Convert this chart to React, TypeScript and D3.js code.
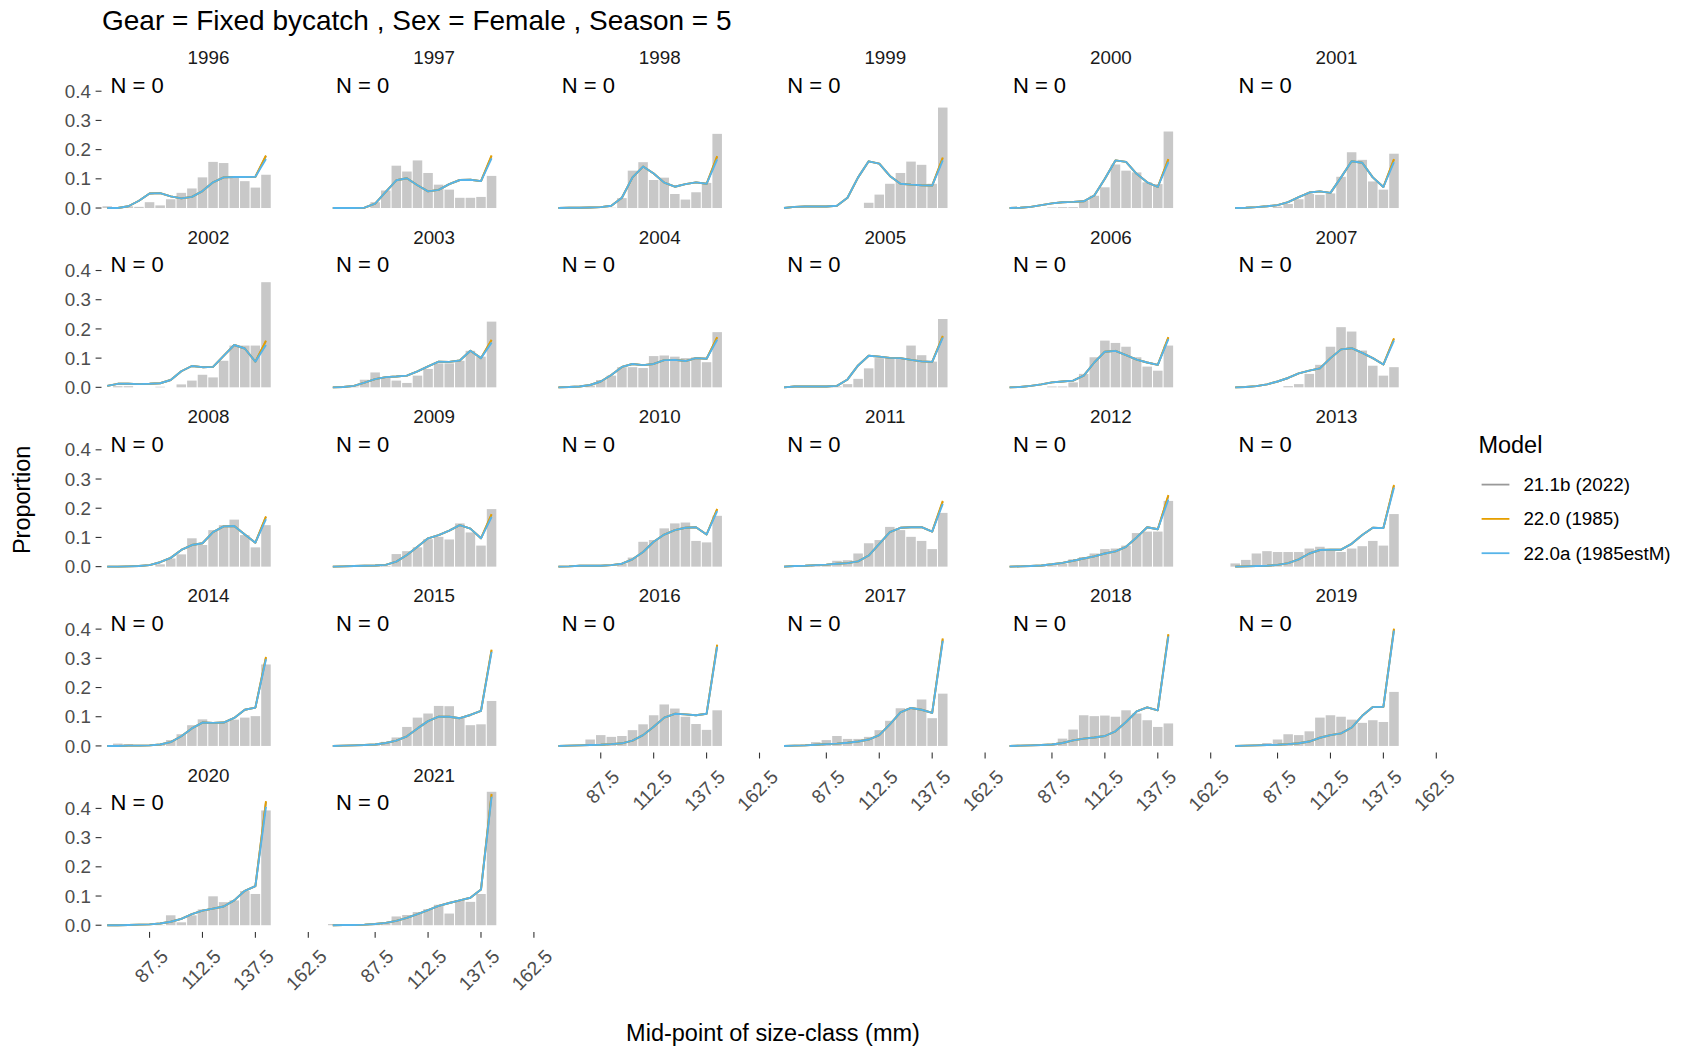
import React from "react";
import * as d3 from "d3";

// ---------------- data ----------------
const years = [1996, 1997, 1998, 1999, 2000, 2001, 2002, 2003, 2004, 2005, 2006, 2007, 2008, 2009, 2010, 2011, 2012, 2013, 2014, 2015, 2016, 2017, 2018, 2019, 2020, 2021];
const sizeMids = [67.5, 72.5, 77.5, 82.5, 87.5, 92.5, 97.5, 102.5, 107.5, 112.5, 117.5, 122.5, 127.5, 132.5, 137.5, 142.5];
const xTicks = [87.5, 112.5, 137.5, 162.5];
const yTicks = [0, 0.1, 0.2, 0.3, 0.4];
const modelNames = ["21.1b (2022)", "22.0 (1985)", "22.0a (1985estM)"];
const modelColors = ["#999999", "#E69F00", "#56B4E9"];

const observed: number[][] = [
  [0.006, 0.002, 0.006, 0.004, 0.02, 0.009, 0.03, 0.052, 0.067, 0.105, 0.158, 0.154, 0.105, 0.092, 0.07, 0.114],
  [0, 0, 0, 0.001, 0.02, 0.06, 0.145, 0.125, 0.163, 0.12, 0.08, 0.063, 0.035, 0.035, 0.038, 0.11],
  [0, 0, 0, 0, 0, 0.001, 0.034, 0.128, 0.157, 0.096, 0.104, 0.048, 0.029, 0.054, 0.086, 0.254],
  [0, 0, 0, 0, 0, 0, 0, 0, 0.018, 0.046, 0.083, 0.12, 0.159, 0.148, 0.083, 0.344],
  [0, 0, 0, 0, 0.002, 0.003, 0.003, 0.025, 0.042, 0.071, 0.149, 0.128, 0.122, 0.088, 0.082, 0.262],
  [0, 0, 0, 0, 0.005, 0.014, 0.03, 0.048, 0.045, 0.05, 0.107, 0.191, 0.165, 0.091, 0.063, 0.186],
  [0, 0.004, 0.004, 0, 0, 0.002, 0, 0.01, 0.023, 0.043, 0.034, 0.091, 0.143, 0.143, 0.143, 0.36],
  [0, 0, 0.003, 0.026, 0.051, 0.034, 0.023, 0.015, 0.04, 0.063, 0.082, 0.082, 0.091, 0.125, 0.105, 0.225],
  [0, 0, 0, 0.006, 0.025, 0.04, 0.069, 0.069, 0.066, 0.107, 0.109, 0.105, 0.1, 0.103, 0.086, 0.189],
  [0, 0, 0, 0, 0, 0.003, 0.011, 0.029, 0.065, 0.1, 0.1, 0.1, 0.143, 0.11, 0.088, 0.234],
  [0, 0, 0, 0, 0.003, 0.003, 0.017, 0.046, 0.103, 0.16, 0.152, 0.139, 0.103, 0.071, 0.057, 0.143],
  [0, 0, 0, 0, 0, 0.004, 0.011, 0.046, 0.077, 0.139, 0.206, 0.191, 0.126, 0.074, 0.04, 0.069],
  [0, 0, 0, 0, 0, 0.008, 0.028, 0.042, 0.097, 0.074, 0.125, 0.142, 0.161, 0.108, 0.066, 0.142],
  [0, 0, 0, 0, 0.002, 0.003, 0.043, 0.053, 0.066, 0.094, 0.102, 0.093, 0.148, 0.117, 0.072, 0.197],
  [0, 0, 0, 0, 0, 0, 0.011, 0.031, 0.085, 0.091, 0.131, 0.148, 0.151, 0.088, 0.083, 0.174],
  [0, 0, 0, 0.003, 0.006, 0.02, 0.022, 0.045, 0.08, 0.091, 0.136, 0.125, 0.102, 0.088, 0.06, 0.184],
  [0, 0, 0.001, 0.002, 0.005, 0.01, 0.025, 0.033, 0.045, 0.06, 0.062, 0.072, 0.115, 0.12, 0.12, 0.225],
  [0.011, 0.023, 0.045, 0.053, 0.05, 0.05, 0.05, 0.062, 0.068, 0.058, 0.05, 0.062, 0.07, 0.088, 0.072, 0.18],
  [0, 0.008, 0.006, 0.001, 0.001, 0.005, 0.02, 0.04, 0.071, 0.091, 0.082, 0.082, 0.09, 0.097, 0.102, 0.279],
  [0, 0, 0, 0.005, 0.007, 0.014, 0.029, 0.065, 0.097, 0.111, 0.137, 0.136, 0.097, 0.071, 0.074, 0.154],
  [0, 0, 0.002, 0.022, 0.037, 0.031, 0.034, 0.054, 0.074, 0.105, 0.142, 0.128, 0.1, 0.075, 0.055, 0.122],
  [0, 0, 0.005, 0.013, 0.02, 0.034, 0.024, 0.024, 0.031, 0.054, 0.086, 0.129, 0.128, 0.159, 0.095, 0.179],
  [0, 0.001, 0.003, 0.004, 0.008, 0.025, 0.056, 0.105, 0.102, 0.104, 0.1, 0.122, 0.111, 0.088, 0.065, 0.077],
  [0, 0, 0, 0.01, 0.022, 0.04, 0.037, 0.05, 0.097, 0.105, 0.1, 0.09, 0.079, 0.088, 0.082, 0.185],
  [0, 0, 0, 0, 0, 0.001, 0.034, 0.01, 0.034, 0.054, 0.099, 0.079, 0.085, 0.117, 0.107, 0.393],
  [0.004, 0.004, 0.002, 0.002, 0.003, 0.008, 0.03, 0.035, 0.045, 0.055, 0.07, 0.04, 0.085, 0.08, 0.107, 0.457],
];

// Model 22.0a (1985estM) fits
const fit22_0a: number[][] = [
  [0, 0, 0.006, 0.025, 0.05, 0.051, 0.04, 0.033, 0.038, 0.058, 0.088, 0.105, 0.106, 0.106, 0.107, 0.168],
  [0, 0, 0, 0.001, 0.015, 0.055, 0.095, 0.102, 0.078, 0.057, 0.062, 0.082, 0.096, 0.097, 0.092, 0.17],
  [0, 0.001, 0.001, 0.002, 0.003, 0.008, 0.035, 0.105, 0.142, 0.118, 0.087, 0.073, 0.082, 0.088, 0.083, 0.167],
  [0, 0.004, 0.005, 0.005, 0.005, 0.008, 0.035, 0.105, 0.16, 0.152, 0.11, 0.083, 0.08, 0.078, 0.077, 0.163],
  [0, 0.001, 0.004, 0.01, 0.016, 0.02, 0.021, 0.023, 0.043, 0.1, 0.163, 0.158, 0.117, 0.088, 0.072, 0.157],
  [0, 0.001, 0.003, 0.006, 0.01, 0.02, 0.037, 0.053, 0.057, 0.052, 0.105, 0.16, 0.155, 0.105, 0.072, 0.157],
  [0.005, 0.012, 0.012, 0.011, 0.012, 0.014, 0.025, 0.055, 0.073, 0.069, 0.07, 0.108, 0.145, 0.133, 0.088, 0.145],
  [0, 0.001, 0.005, 0.016, 0.028, 0.035, 0.037, 0.04, 0.055, 0.072, 0.088, 0.087, 0.092, 0.125, 0.1, 0.153],
  [0, 0.001, 0.003, 0.008, 0.02, 0.042, 0.07, 0.08, 0.076, 0.08, 0.093, 0.094, 0.09, 0.1, 0.098, 0.163],
  [0, 0.003, 0.003, 0.003, 0.003, 0.005, 0.027, 0.075, 0.108, 0.105, 0.101, 0.1, 0.094, 0.089, 0.087, 0.17],
  [0, 0.001, 0.005, 0.01, 0.017, 0.02, 0.023, 0.04, 0.085, 0.122, 0.125, 0.11, 0.095, 0.085, 0.077, 0.165],
  [0, 0.001, 0.004, 0.01, 0.02, 0.032, 0.048, 0.057, 0.065, 0.1, 0.13, 0.134, 0.118, 0.1, 0.078, 0.16],
  [0, 0, 0.001, 0.002, 0.005, 0.015, 0.03, 0.057, 0.074, 0.08, 0.118, 0.138, 0.139, 0.11, 0.082, 0.163],
  [0, 0.001, 0.002, 0.003, 0.004, 0.006, 0.017, 0.04, 0.068, 0.097, 0.108, 0.123, 0.142, 0.13, 0.097, 0.17],
  [0, 0.001, 0.003, 0.003, 0.003, 0.005, 0.01, 0.025, 0.05, 0.085, 0.11, 0.125, 0.133, 0.135, 0.11, 0.19],
  [0, 0.002, 0.003, 0.005, 0.007, 0.01, 0.012, 0.018, 0.038, 0.078, 0.118, 0.133, 0.135, 0.135, 0.12, 0.215],
  [0, 0.001, 0.002, 0.004, 0.008, 0.013, 0.02, 0.028, 0.035, 0.045, 0.052, 0.068, 0.1, 0.135, 0.128, 0.23],
  [0, 0.001, 0.002, 0.003, 0.006, 0.012, 0.025, 0.045, 0.057, 0.058, 0.058, 0.078, 0.108, 0.133, 0.132, 0.27],
  [0, 0, 0.001, 0.001, 0.002, 0.005, 0.013, 0.033, 0.06, 0.08, 0.079, 0.08, 0.096, 0.124, 0.131, 0.297],
  [0, 0.001, 0.002, 0.003, 0.005, 0.01, 0.018, 0.033, 0.06, 0.085, 0.1, 0.1, 0.095, 0.106, 0.12, 0.322],
  [0, 0.001, 0.002, 0.003, 0.004, 0.006, 0.009, 0.018, 0.037, 0.066, 0.097, 0.11, 0.108, 0.105, 0.11, 0.34],
  [0, 0.001, 0.002, 0.004, 0.006, 0.008, 0.011, 0.015, 0.022, 0.037, 0.074, 0.115, 0.13, 0.124, 0.113, 0.36],
  [0, 0.001, 0.002, 0.003, 0.005, 0.01, 0.019, 0.025, 0.029, 0.034, 0.05, 0.082, 0.118, 0.132, 0.122, 0.375],
  [0, 0.001, 0.002, 0.003, 0.004, 0.006, 0.009, 0.015, 0.028, 0.037, 0.043, 0.063, 0.103, 0.133, 0.134, 0.395],
  [0, 0, 0.001, 0.002, 0.003, 0.006, 0.012, 0.022, 0.038, 0.05, 0.057, 0.064, 0.085, 0.118, 0.134, 0.405],
  [0, 0.001, 0.001, 0.002, 0.004, 0.008, 0.015, 0.025, 0.038, 0.052, 0.066, 0.076, 0.085, 0.094, 0.122, 0.44],
];

// Models 22.0 (1985) and 21.1b (2022) run under 22.0a except in the last size class
const fit22_0Last = [0.18, 0.18, 0.178, 0.173, 0.168, 0.168, 0.16, 0.163, 0.172, 0.176, 0.172, 0.168, 0.172, 0.18, 0.198, 0.225, 0.245, 0.28, 0.305, 0.33, 0.347, 0.368, 0.383, 0.402, 0.425, 0.45];
const fit21_1bLast = [0.178, 0.178, 0.176, 0.171, 0.166, 0.166, 0.158, 0.161, 0.17, 0.174, 0.17, 0.166, 0.17, 0.178, 0.196, 0.222, 0.242, 0.277, 0.302, 0.327, 0.344, 0.365, 0.38, 0.4, 0.422, 0.447];

// ---------------- layout ----------------
const W = 1681;
const H = 1047;
const NCOL = 6;
const COL_X0 = 101.5;
const COL_STEP = 225.6;
const PW = 214;
const ROW_Y0 = 67.9;
const ROW_STEP = 179.3;
const PH = 146.8;
const FONT = "'Liberation Sans', Arial, Helvetica, sans-serif";

export default function App() {
  const allVals = observed.flat().concat(fit22_0a.flat(), fit22_0Last, fit21_1bLast);
  const yMax = d3.max(allVals) as number;
  const x = d3.scaleLinear().domain([64.8, 165.9]).range([0, PW]);
  const y = d3.scaleLinear().domain([-0.05 * yMax, 1.05 * yMax]).range([PH, 0]);
  const halfW = 2.25;

  const line = d3
    .line<[number, number]>()
    .x((d) => x(d[0]))
    .y((d) => y(d[1]));

  const nYears = years.length;

  return (
    <svg
      width={W}
      height={H}
      style={{ position: "absolute", left: 0, top: 0, background: "#fff" }}
      fontFamily={FONT}
    >
      <rect x={0} y={0} width={W} height={H} fill="#fff" />
      <text x={102} y={29.5} fontSize={28} fill="#000">
        Gear = Fixed bycatch , Sex = Female , Season = 5
      </text>

      {years.map((yr, i) => {
        const col = i % NCOL;
        const row = Math.floor(i / NCOL);
        const px = COL_X0 + col * COL_STEP;
        const py = ROW_Y0 + row * ROW_STEP;
        const obs = observed[i];
        const blue = fit22_0a[i];
        const orange = blue.slice(0, blue.length - 1).concat([fit22_0Last[i]]);
        const gray = blue.slice(0, blue.length - 1).concat([fit21_1bLast[i]]);
        const series = [gray, orange, blue];
        const showX = i + NCOL >= nYears;
        const showY = col === 0;
        return (
          <g key={yr} transform={`translate(${px},${py})`}>
            <text x={PW / 2} y={-3.5} fontSize={18.8} fill="#1a1a1a" textAnchor="middle">
              {yr}
            </text>
            {obs.map((v, j) => (
              <rect
                key={j}
                x={x(sizeMids[j] - halfW)}
                y={y(Math.max(v, 0))}
                width={x(sizeMids[j] + halfW) - x(sizeMids[j] - halfW)}
                height={Math.max(0, y(0) - y(v))}
                fill="#c8c8c8"
              />
            ))}
            {series.map((s, k) => (
              <path
                key={k}
                d={line(sizeMids.map((m, j) => [m, s[j]] as [number, number])) || ""}
                fill="none"
                stroke={modelColors[k]}
                strokeWidth={1.9}
                strokeLinejoin="round"
              />
            ))}
            <text x={9} y={25} fontSize={22} fill="#000">
              N = 0
            </text>
            {showY &&
              yTicks.map((t) => (
                <g key={t} transform={`translate(0,${y(t)})`}>
                  <line x1={-5.9} x2={0} stroke="#333" strokeWidth={1.1} />
                  <text x={-10.6} dy="0.35em" fontSize={18.8} fill="#4d4d4d" textAnchor="end">
                    {t.toFixed(1)}
                  </text>
                </g>
              ))}
            {showX &&
              xTicks.map((t) => (
                <g key={t} transform={`translate(${x(t)},${PH})`}>
                  <line y1={0} y2={5.9} stroke="#333" strokeWidth={1.1} />
                  <text
                    transform={`translate(9.5,15.5) rotate(-45)`}
                    dy="0.75em"
                    fontSize={19.2}
                    fill="#4d4d4d"
                    textAnchor="end"
                  >
                    {t.toFixed(1)}
                  </text>
                </g>
              ))}
          </g>
        );
      })}

      <text
        transform={`translate(29.5,${ROW_Y0 + (4 * ROW_STEP + PH) / 2}) rotate(-90)`}
        fontSize={23.5}
        fill="#000"
        textAnchor="middle"
      >
        Proportion
      </text>
      <text x={773} y={1040.5} fontSize={23.5} fill="#000" textAnchor="middle">
        Mid-point of size-class (mm)
      </text>

      <g transform="translate(1478.4,0)">
        <text x={0} y={453} fontSize={23.5} fill="#000">
          Model
        </text>
        {modelNames.map((nm, k) => (
          <g key={nm} transform={`translate(0,${484.6 + k * 34.3})`}>
            <line x1={3.2} x2={31} stroke={modelColors[k]} strokeWidth={1.8} />
            <text x={45} dy="0.35em" fontSize={18.8} fill="#000">
              {nm}
            </text>
          </g>
        ))}
      </g>
    </svg>
  );
}
